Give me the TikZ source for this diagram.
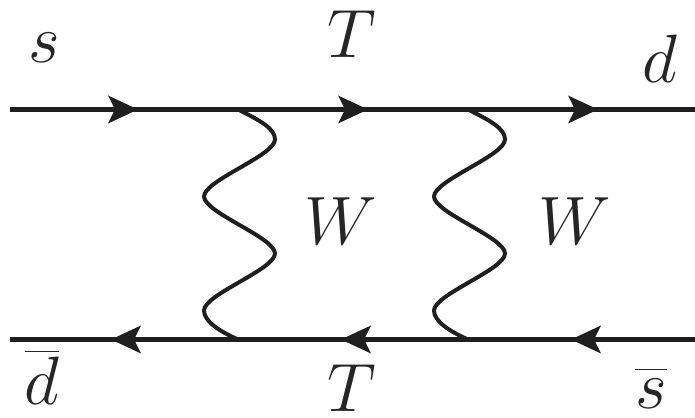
\documentclass[tikz,border=0pt]{standalone}
\tikzset{
  fermion/.style={line width=4.4pt,draw=black!88},
  boson/.style={line width=4pt,draw=black!88},
  tip/.style={fill=black!88,draw=none},
  lbl/.style={inner sep=0pt,text=black!85,font=\Huge,transform shape,scale=2.75},
  wave/.pic={
    \draw[boson] (0,0) .. controls (22,11) and (37,19) .. (37,30)
      .. controls (37,46) and (-34,71) .. (-34,87)
      .. controls (-34,103) and (37,128) .. (37,144)
      .. controls (37,160) and (-34,185) .. (-34,201)
      .. controls (-34,212) and (-18,222) .. (0,230);
  },
  head/.pic={
    \fill[tip] (15,0) -- (-15,-14) -- (-8,0) -- (-15,14) -- cycle;
  }
}
\begin{document}
\begin{tikzpicture}[x=0.03514cm,y=-0.03514cm]
\useasboundingbox (0,0) rectangle (695,418);
\coordinate (a1) at (10,109.5);
\coordinate (a2) at (695,109.5);
\coordinate (b1) at (10,339.5);
\coordinate (b2) at (695,339.5);
\coordinate (w1t) at (238,109.5);
\coordinate (w2t) at (468,109.5);
\draw[fermion] (a1) -- (a2);
\draw[fermion] (b1) -- (b2);
\pic at (123,109.5) {head};
\pic at (353,109.5) {head};
\pic at (583,109.5) {head};
\pic[xscale=-1] at (126,339.5) {head};
\pic[xscale=-1] at (356,339.5) {head};
\pic[xscale=-1] at (586,339.5) {head};
\pic at (w1t) {wave};
\pic at (w2t) {wave};
\node[lbl] (ls) at (44,48) {$s$};
\node[lbl] (lT1) at (352,34) {$T$};
\node[lbl] (ld) at (660,59) {$d$};
\node[lbl] (lW1) at (341,221) {$W$};
\node[lbl] (lW2) at (575,221) {$W$};
\node[lbl] (ldb) at (42,377) {$\overline{\rule{0pt}{0.72em}d}$};
\node[lbl] (lT2) at (352,388) {$T$};
\node[lbl] (lsb) at (651,388) {$\overline{\rule{0pt}{0.52em}s}$};
\end{tikzpicture}
\end{document}
